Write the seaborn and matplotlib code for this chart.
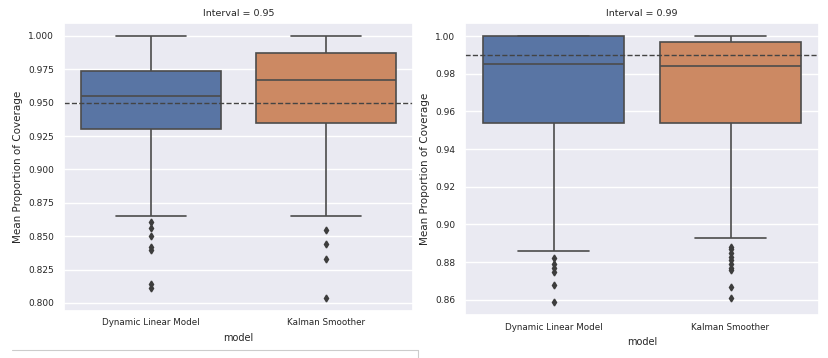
import matplotlib
matplotlib.use("Agg")
import matplotlib.pyplot as plt
from matplotlib.lines import Line2D
import pandas as pd
import seaborn as sns

models = ["Dynamic Linear Model", "Kalman Smoother"]
intervals = [0.95, 0.99]

dlm_95 = [0.811, 0.814, 0.840, 0.842, 0.850, 0.856, 0.861, 0.865, 0.895, 0.918,
          0.930, 0.934, 0.938, 0.941, 0.944, 0.946, 0.948, 0.951, 0.953, 0.954,
          0.955, 0.957, 0.959, 0.961, 0.963, 0.965, 0.967, 0.969, 0.971, 0.972,
          0.974, 0.977, 0.980, 0.983, 0.986, 0.989, 0.992, 0.995, 0.997, 0.999,
          1.000]
ks_95 = [0.804, 0.833, 0.844, 0.855, 0.865, 0.880, 0.900, 0.915, 0.925, 0.931,
         0.935, 0.939, 0.943, 0.947, 0.951, 0.954, 0.957, 0.960, 0.963, 0.965,
         0.967, 0.969, 0.971, 0.973, 0.975, 0.977, 0.979, 0.981, 0.983, 0.985,
         0.987, 0.988, 0.989, 0.990, 0.991, 0.993, 0.994, 0.996, 0.998, 0.999,
         1.000]
dlm_99 = [0.859, 0.868, 0.875, 0.877, 0.879, 0.882, 0.886, 0.910, 0.930, 0.945,
          0.954, 0.958, 0.962, 0.966, 0.970, 0.973, 0.976, 0.979, 0.981, 0.983,
          0.985, 0.987, 0.989, 0.991, 0.993, 0.995, 0.997, 0.998, 0.999, 1.000,
          1.000, 1.000, 1.000, 1.000, 1.000, 1.000, 1.000, 1.000, 1.000, 1.000,
          1.000]
ks_99 = [0.861, 0.867, 0.876, 0.877, 0.879, 0.881, 0.883, 0.885, 0.887, 0.888,
         0.893, 0.905, 0.920, 0.935, 0.946, 0.954, 0.957, 0.960, 0.963, 0.965,
         0.967, 0.969, 0.971, 0.973, 0.975, 0.977, 0.979, 0.980, 0.982, 0.983,
         0.984, 0.985, 0.986, 0.987, 0.988, 0.989, 0.990, 0.991, 0.992, 0.993,
         0.994, 0.994, 0.995, 0.996, 0.996, 0.997, 0.997, 0.998, 0.998, 0.998,
         0.999, 0.999, 0.999, 0.999, 1.000, 1.000, 1.000, 1.000, 1.000, 1.000,
         1.000]

rows = []
for interval, groups in zip(intervals, [[dlm_95, ks_95], [dlm_99, ks_99]]):
    for model, values in zip(models, groups):
        for v in values:
            rows.append({"model": model, "interval": interval, "coverage": v})
df = pd.DataFrame(rows)

sns.set_theme(style="darkgrid")
plt.rcParams["font.family"] = ["DejaVu Sans"]

fig = plt.figure(figsize=(8.29, 3.58), dpi=100)
positions = [[0.0772, 0.132, 0.421, 0.8045], [0.561, 0.120, 0.427, 0.8165]]

for interval, pos in zip(intervals, positions):
    ax = fig.add_axes(pos)
    sub = df[df["interval"] == interval]
    sns.boxplot(data=sub, x="model", y="coverage", hue="model", order=models,
                palette="deep", saturation=0.75, legend=False, ax=ax,
                linewidth=1.2, fliersize=3.5,
                flierprops={"marker": "d", "markerfacecolor": "#3d3d3d",
                            "markeredgecolor": "#3d3d3d"})
    ax.axhline(interval, color="#444444", linestyle="--", linewidth=1.0)
    ax.set_title("Interval = %.2f" % interval, fontsize=6.8, pad=5)
    ax.set_ylabel("Mean Proportion of Coverage", fontsize=7.5, labelpad=4)
    ax.set_xlabel("model", fontsize=7.0, labelpad=4)
    ax.tick_params(axis="x", labelsize=6.3, length=0, pad=5.5)
    ax.tick_params(axis="y", labelsize=6.5, length=0, pad=7)

fig.add_artist(Line2D([12 / 829, 418 / 829], [1 - 350 / 358, 1 - 350 / 358],
                      color="#cccccc", linewidth=0.8, transform=fig.transFigure))
fig.add_artist(Line2D([418 / 829, 418 / 829], [1 - 350 / 358, 0],
                      color="#cccccc", linewidth=0.8, transform=fig.transFigure))

fig.savefig("out.png", dpi=100)
